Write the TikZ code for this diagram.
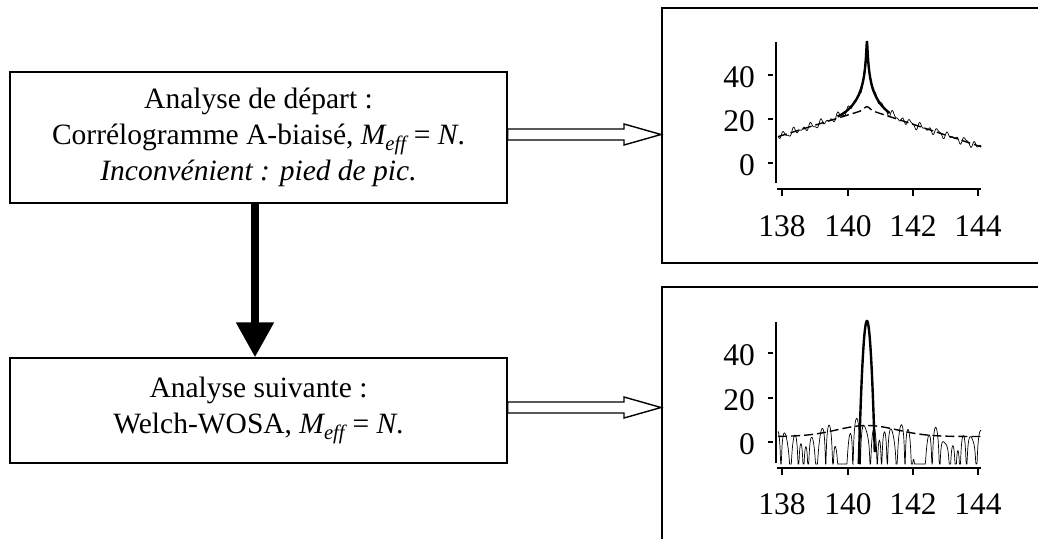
\documentclass[tikz,border=0pt]{standalone}
\usepackage{fontspec}
\setmainfont{Liberation Serif}
\usetikzlibrary{arrows.meta,calc}
\begin{document}
\begin{tikzpicture}[x=1pt,y=-1pt,
  box/.style={draw,line width=1.3pt,minimum width=497pt,align=center,font=\fontsize{29.5}{36}\selectfont,inner sep=0pt},
  panel/.style={draw,line width=1.8pt,anchor=north west,minimum width=420pt,inner sep=0pt},
  hollow/.style={draw,line width=1.4pt,fill=white,line join=miter},
  axisline/.style={line width=1.8pt},
  tickline/.style={line width=1.8pt},
  lbl/.style={font=\fontsize{31.5}{33}\selectfont,inner sep=0pt},
  thinline/.style={line width=0.7pt},
  thickline/.style={line width=2.4pt},
  bgdash/.style={line width=1.4pt,dash pattern=on 9pt off 4pt}]
\useasboundingbox (0,0) rectangle (1038,538);
\clip (0,0) rectangle (1038,538);
% boxes
\node[box,minimum height=131pt] (b1) at (258.5,137.5) {Analyse de départ :\\ Corrélogramme A-biaisé, \textit{M\textsubscript{eff}} = \textit{N}.\\ \textit{Inconvénient : pied de pic.}};
\node[box,minimum height=105pt] (b2) at (258.5,410.5) {Analyse suivante :\\ Welch-WOSA, \textit{M\textsubscript{eff}} = \textit{N}.};
% panels
\node[panel,minimum height=255pt] (p1) at (661,7) {};
\node[panel,minimum height=300pt] (p2) at (661,286) {};
% thick arrow
\draw[line width=8pt,-{Triangle[width=36pt,length=35pt]}] ([xshift=-3.5pt]b1.south) -- ([xshift=-3.5pt]b2.north);
% hollow arrows
\path[hollow] let \p1=($(b1.east)+(0,-3)$), \p2=(p1.west) in
  (\x1,\y1+5.5pt) -- (\x2-37pt,\y1+5.5pt) -- (\x2-37pt,\y1+10.5pt) -- (\x2,\y1) -- (\x2-37pt,\y1-10.5pt) -- (\x2-37pt,\y1-5.5pt) -- (\x1,\y1-5.5pt) -- cycle;
\path[hollow] let \p1=($(b2.east)+(0,-3)$), \p2=(p2.west) in
  (\x1,\y1+5.5pt) -- (\x2-37pt,\y1+5.5pt) -- (\x2-37pt,\y1+10.5pt) -- (\x2,\y1) -- (\x2-37pt,\y1-10.5pt) -- (\x2-37pt,\y1-5.5pt) -- (\x1,\y1-5.5pt) -- cycle;
% ---------- plot 1 ----------
\draw[axisline] (776,42) -- (776,183);
\draw[axisline] (777,189) -- (981,189);
\foreach \yy in {75,119,163} \draw[tickline] (768,\yy) -- (773,\yy);
\foreach \xx in {782,848,913,978} \draw[tickline] (\xx,189) -- (\xx,196);
\node[lbl,anchor=east] (ya40) at (755,77) {40};
\node[lbl,anchor=east] (ya20) at (755,121) {20};
\node[lbl,anchor=east] (ya0) at (755,165) {0};
\node[lbl] (xa138) at (782,226) {138};
\node[lbl] (xa140) at (848,226) {140};
\node[lbl] (xa142) at (913,226) {142};
\node[lbl] (xa144) at (978,226) {144};
\begin{scope}[shift={(782pt,-163pt)},x=32.67pt,y=2.2pt]
\draw[bgdash] plot[domain=-0.12:6.1,samples=120] (\x,{24.5-4.75*abs(\x-2.6)-0.15*(\x-2.6)+1.2*exp(0-(8*(\x-2.6))^2)});
\draw[thinline] plot[domain=-0.12:6.1,samples=400] (\x,{30+4.343*ln(exp(0.23026*(24.5-4.75*abs(\x-2.6)-0.15*(\x-2.6))-6.9078)+7.5/((10*(\x-2.6))^2+0.0237)*exp(0-((\x-2.6)/0.7)^2))+1.0*sin(\x*1300)+0.7*sin(\x*2150+50)+0.6*sin(\x*830+120)});
\draw[thickline] plot[domain=1.7:3.3,samples=300] (\x,{30+4.343*ln(exp(0.23026*(24.5-4.75*abs(\x-2.6)-0.15*(\x-2.6))-6.9078)+7.5/((10*(\x-2.6))^2+0.0237)*exp(0-((\x-2.6)/0.7)^2))});
\end{scope}
% ---------- plot 2 ----------
\draw[axisline] (776,322) -- (776,463);
\draw[axisline] (777,468) -- (981,468);
\foreach \yy in {353,398,442} \draw[tickline] (768,\yy) -- (773,\yy);
\foreach \xx in {782,848,913,978} \draw[tickline] (\xx,468) -- (\xx,475);
\node[lbl,anchor=east] (yb40) at (755,355) {40};
\node[lbl,anchor=east] (yb20) at (755,400) {20};
\node[lbl,anchor=east] (yb0) at (755,444) {0};
\node[lbl] (xb138) at (782,504) {138};
\node[lbl] (xb140) at (848,504) {140};
\node[lbl] (xb142) at (913,504) {142};
\node[lbl] (xb144) at (978,504) {144};
\begin{scope}[shift={(782pt,-442pt)},x=32.67pt,y=2.2pt]
\draw[bgdash] plot[domain=-0.12:6.1,samples=100] (\x,{2.5+5*exp(0-((\x-2.6)/1.3)^2)});
\draw[thinline] plot[domain=-0.12:6.1,samples=600] (\x,{max(-10,2.5+5*exp(0-((\x-2.6)/1.3)^2)+4+8.686*ln(max(abs(0.45*sin(\x*820)+0.35*sin(\x*510+30)+0.2*sin(\x*1270+75)),0.02)))});
\draw[thickline] plot[domain=2.35:2.84,samples=80] (\x,{55-1040*(\x-2.6)^2});
\end{scope}
\end{tikzpicture}
\end{document}
